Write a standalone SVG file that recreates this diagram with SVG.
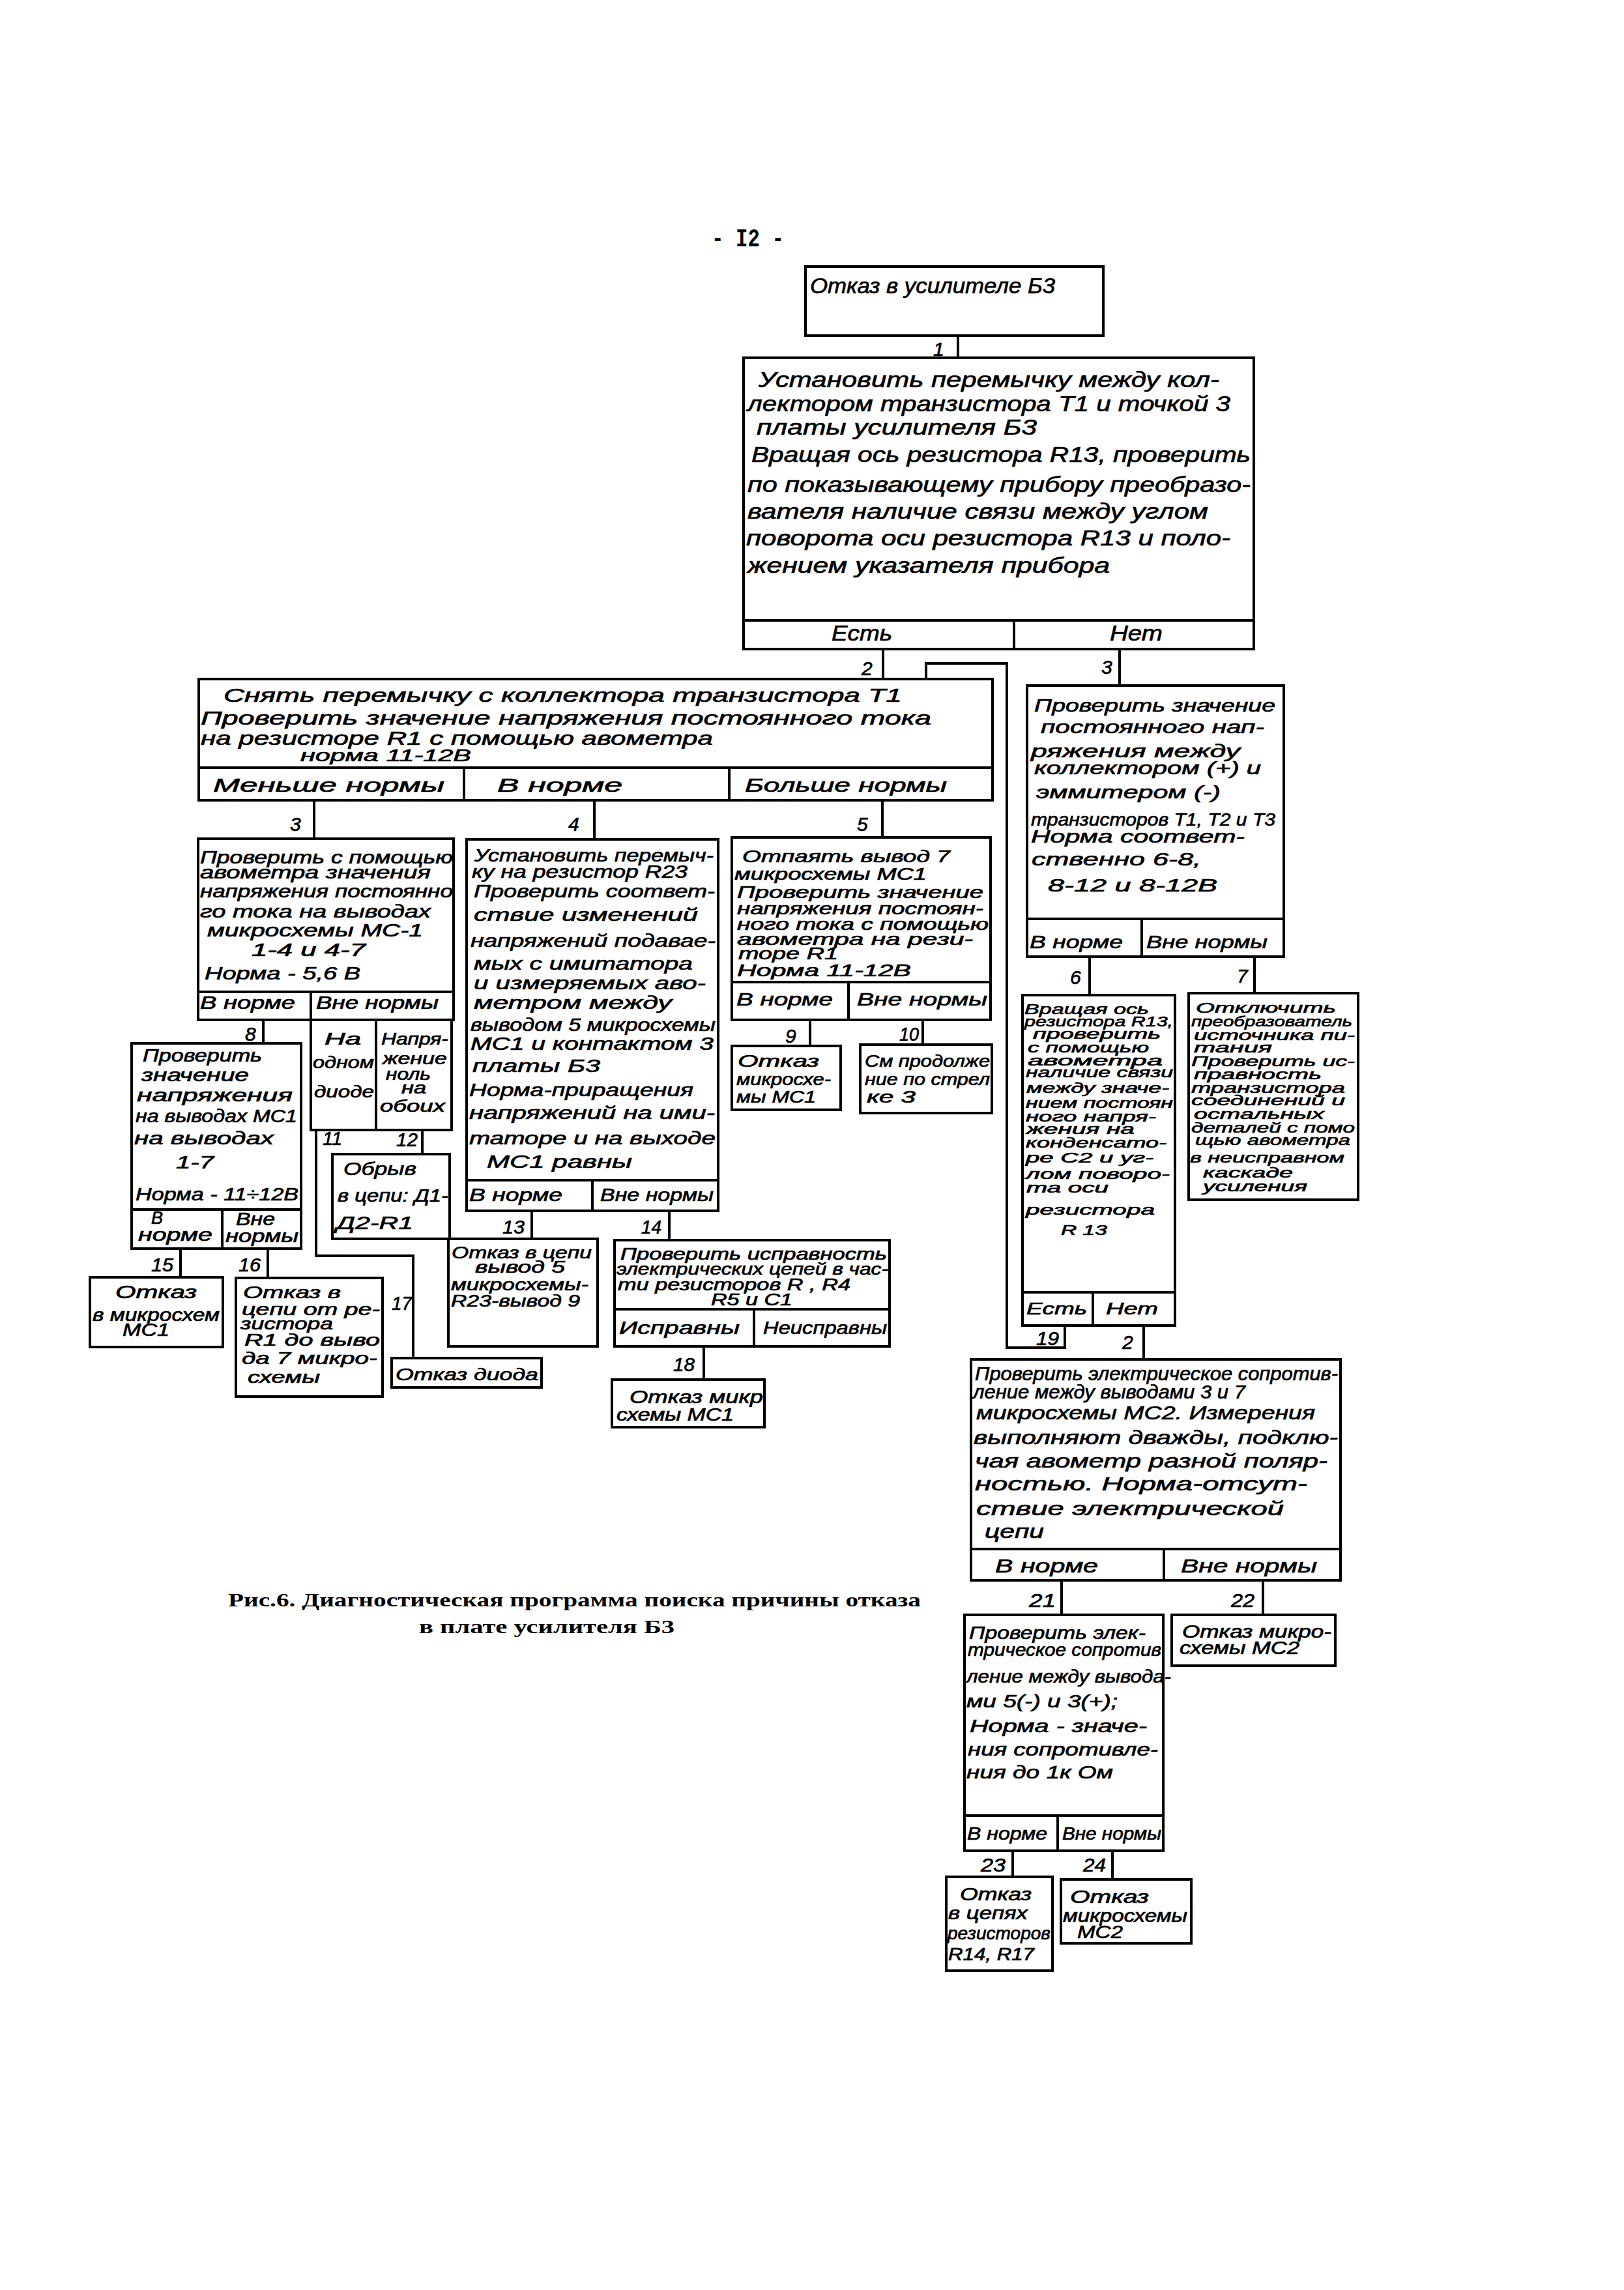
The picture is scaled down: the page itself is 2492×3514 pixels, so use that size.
<svg xmlns="http://www.w3.org/2000/svg" width="2492" height="3514" viewBox="0 0 2492 3514">
<style>
.bx{fill:none;stroke:#000;stroke-width:4;stroke-linejoin:miter}
.ln{fill:none;stroke:#000;stroke-width:4}
.t{font-family:"Liberation Sans","DejaVu Sans",sans-serif;font-style:italic;fill:#000;stroke:#000;stroke-width:0.7}
.lb{font-family:"Liberation Sans","DejaVu Sans",sans-serif;font-style:italic;font-size:30px;fill:#000;stroke:#000;stroke-width:0.7}
.f22{font-size:22px}.f24{font-size:24px}.f25{font-size:25px}.f27{font-size:27px}.f28{font-size:28px}.f30{font-size:30px}.f34{font-size:34px}
.cap{font-family:"Liberation Serif","DejaVu Serif",serif;font-weight:bold;font-size:30px;fill:#000}
.pg{font-family:"Liberation Mono","DejaVu Sans Mono",monospace;font-weight:bold;font-size:38px;fill:#000}
</style>
<rect width="2492" height="3514" fill="#fff"/>
<text class="pg" x="1092" y="378" textLength="111" lengthAdjust="spacingAndGlyphs">- I2 -</text>

<g id="connectors">
<path class="ln" d="M1470 515V549"/>
<path class="ln" d="M1355 996V1042"/>
<path class="ln" d="M1718 996V1052"/>
<path class="ln" d="M1421 1042V1018H1545V2068H1634V2034"/>
<path class="ln" d="M482 1228V1287"/>
<path class="ln" d="M912 1228V1288"/>
<path class="ln" d="M1354 1228V1285"/>
<path class="ln" d="M1672 1468V1527"/>
<path class="ln" d="M1925 1468V1524"/>
<path class="ln" d="M404 1565V1601"/>
<path class="ln" d="M1243 1565V1605"/>
<path class="ln" d="M1416 1565V1603"/>
<path class="ln" d="M485 1734V1927H634V2084"/>
<path class="ln" d="M648 1734V1771"/>
<path class="ln" d="M816 1858V1901"/>
<path class="ln" d="M1027 1858V1903"/>
<path class="ln" d="M277 1916V1960"/>
<path class="ln" d="M411 1916V1961"/>
<path class="ln" d="M1080 2066V2117"/>
<path class="ln" d="M1755 2034V2086"/>
<path class="ln" d="M1629 2425V2478"/>
<path class="ln" d="M1938 2425V2478"/>
<path class="ln" d="M1554 2840V2880"/>
<path class="ln" d="M1707 2840V2884"/>
<text class="lb" x="1432" y="546">1</text>
<text class="lb" x="1322" y="1036">2</text>
<text class="lb" x="1690" y="1034">3</text>
<text class="lb" x="445" y="1275">3</text>
<text class="lb" x="872" y="1275">4</text>
<text class="lb" x="1315" y="1275">5</text>
<text class="lb" x="1642" y="1510">6</text>
<text class="lb" x="1898" y="1508">7</text>
<text class="lb" x="376" y="1597">8</text>
<text class="lb" x="1205" y="1600">9</text>
<text class="lb" x="1380" y="1597" textLength="30" lengthAdjust="spacingAndGlyphs">10</text>
<text class="lb" x="495" y="1757" textLength="30" lengthAdjust="spacingAndGlyphs">11</text>
<text class="lb" x="608" y="1759" textLength="33" lengthAdjust="spacingAndGlyphs">12</text>
<text class="lb" x="771" y="1893" textLength="34" lengthAdjust="spacingAndGlyphs">13</text>
<text class="lb" x="984" y="1893" textLength="31" lengthAdjust="spacingAndGlyphs">14</text>
<text class="lb" x="232" y="1951" textLength="34" lengthAdjust="spacingAndGlyphs">15</text>
<text class="lb" x="366" y="1951" textLength="34" lengthAdjust="spacingAndGlyphs">16</text>
<text class="lb" x="601" y="2010" textLength="31" lengthAdjust="spacingAndGlyphs">17</text>
<text class="lb" x="1033" y="2104" textLength="33" lengthAdjust="spacingAndGlyphs">18</text>
<text class="lb" x="1590" y="2064" textLength="35" lengthAdjust="spacingAndGlyphs">19</text>
<text class="lb" x="1722" y="2070">2</text>
<text class="lb" x="1579" y="2466" textLength="41" lengthAdjust="spacingAndGlyphs">21</text>
<text class="lb" x="1889" y="2466" textLength="36" lengthAdjust="spacingAndGlyphs">22</text>
<text class="lb" x="1505" y="2872" textLength="38" lengthAdjust="spacingAndGlyphs">23</text>
<text class="lb" x="1662" y="2872" textLength="35" lengthAdjust="spacingAndGlyphs">24</text>
</g>

<g id="nodeA">
<rect class="bx" x="1236" y="409" width="457" height="106"/>
<text class="t f34" x="1243" y="450" textLength="376" lengthAdjust="spacingAndGlyphs">Отказ в усилителе Б3</text>
</g>

<g id="node1">
<rect class="bx" x="1141" y="549" width="783" height="447"/>
<path class="ln" d="M1141 952H1924M1556 952V996"/>
<text class="t f34" x="1164" y="594" textLength="707" lengthAdjust="spacingAndGlyphs">Установить перемычку между кол-</text>
<text class="t f34" x="1147" y="631" textLength="741" lengthAdjust="spacingAndGlyphs">лектором транзистора T1 и точкой 3</text>
<text class="t f34" x="1161" y="667" textLength="430" lengthAdjust="spacingAndGlyphs">платы усилителя Б3</text>
<text class="t f34" x="1153" y="709" textLength="766" lengthAdjust="spacingAndGlyphs">Вращая ось резистора R13, проверить</text>
<text class="t f34" x="1147" y="755" textLength="772" lengthAdjust="spacingAndGlyphs">по показывающему прибору преобразо-</text>
<text class="t f34" x="1147" y="796" textLength="707" lengthAdjust="spacingAndGlyphs">вателя наличие связи между углом</text>
<text class="t f34" x="1145" y="837" textLength="743" lengthAdjust="spacingAndGlyphs">поворота оси резистора R13 и поло-</text>
<text class="t f34" x="1147" y="879" textLength="556" lengthAdjust="spacingAndGlyphs">жением указателя прибора</text>
<text class="t f34" x="1276" y="983" textLength="93" lengthAdjust="spacingAndGlyphs">Есть</text>
<text class="t f34" x="1703" y="983" textLength="81" lengthAdjust="spacingAndGlyphs">Нет</text>
</g>

<g id="node2">
<rect class="bx" x="305" y="1042" width="1218" height="186"/>
<path class="ln" d="M305 1178H1523M712 1178V1228M1119 1178V1228"/>
<text class="t f30" x="343" y="1077" textLength="1041" lengthAdjust="spacingAndGlyphs">Снять перемычку с коллектора транзистора T1</text>
<text class="t f30" x="308" y="1112" textLength="1121" lengthAdjust="spacingAndGlyphs">Проверить значение напряжения постоянного тока</text>
<text class="t f30" x="308" y="1143" textLength="786" lengthAdjust="spacingAndGlyphs">на резисторе R1 с помощью авометра</text>
<text class="t f25" x="461" y="1168" textLength="262" lengthAdjust="spacingAndGlyphs">норма 11-12В</text>
<text class="t f30" x="327" y="1215" textLength="355" lengthAdjust="spacingAndGlyphs">Меньше нормы</text>
<text class="t f30" x="763" y="1215" textLength="192" lengthAdjust="spacingAndGlyphs">В норме</text>
<text class="t f30" x="1143" y="1215" textLength="310" lengthAdjust="spacingAndGlyphs">Больше нормы</text>
</g>

<g id="node3">
<rect class="bx" x="1576" y="1052" width="394" height="416"/>
<path class="ln" d="M1576 1410H1970M1752 1410V1468"/>
<text class="t f28" x="1587" y="1092" textLength="370" lengthAdjust="spacingAndGlyphs">Проверить значение</text>
<text class="t f28" x="1597" y="1125" textLength="343" lengthAdjust="spacingAndGlyphs">постоянного нап-</text>
<text class="t f28" x="1582" y="1162" textLength="321" lengthAdjust="spacingAndGlyphs">ряжения между</text>
<text class="t f28" x="1587" y="1188" textLength="348" lengthAdjust="spacingAndGlyphs">коллектором (+) и</text>
<text class="t f28" x="1590" y="1225" textLength="283" lengthAdjust="spacingAndGlyphs">эммитером (-)</text>
<text class="t f28" x="1582" y="1267" textLength="375" lengthAdjust="spacingAndGlyphs">транзисторов T1, T2 и T3</text>
<text class="t f28" x="1582" y="1293" textLength="328" lengthAdjust="spacingAndGlyphs">Норма соответ-</text>
<text class="t f28" x="1583" y="1328" textLength="260" lengthAdjust="spacingAndGlyphs">ственно 6-8,</text>
<text class="t f28" x="1608" y="1368" textLength="260" lengthAdjust="spacingAndGlyphs">8-12 и 8-12В</text>
<text class="t f28" x="1580" y="1455" textLength="143" lengthAdjust="spacingAndGlyphs">В норме</text>
<text class="t f28" x="1759" y="1455" textLength="186" lengthAdjust="spacingAndGlyphs">Вне нормы</text>
</g>

<g id="node3a">
<rect class="bx" x="304" y="1287" width="392" height="278"/>
<path class="ln" d="M304 1522H696M477 1522V1565"/>
<text class="t f27" x="307" y="1325" textLength="388" lengthAdjust="spacingAndGlyphs">Проверить с помощью</text>
<text class="t f27" x="307" y="1348" textLength="354" lengthAdjust="spacingAndGlyphs">авометра значения</text>
<text class="t f27" x="307" y="1377" textLength="388" lengthAdjust="spacingAndGlyphs">напряжения постоянно</text>
<text class="t f27" x="307" y="1408" textLength="354" lengthAdjust="spacingAndGlyphs">го тока на выводах</text>
<text class="t f27" x="318" y="1437" textLength="331" lengthAdjust="spacingAndGlyphs">микросхемы MC-1</text>
<text class="t f27" x="386" y="1467" textLength="175" lengthAdjust="spacingAndGlyphs">1-4 и 4-7</text>
<text class="t f27" x="314" y="1503" textLength="239" lengthAdjust="spacingAndGlyphs">Норма - 5,6 В</text>
<text class="t f27" x="307" y="1548" textLength="146" lengthAdjust="spacingAndGlyphs">В норме</text>
<text class="t f27" x="485" y="1548" textLength="188" lengthAdjust="spacingAndGlyphs">Вне нормы</text>
</g>

<g id="node4">
<rect class="bx" x="716" y="1288" width="386" height="570"/>
<path class="ln" d="M716 1811H1102M909 1811V1858"/>
<text class="t f28" x="728" y="1322" textLength="367" lengthAdjust="spacingAndGlyphs">Установить перемыч-</text>
<text class="t f28" x="724" y="1347" textLength="331" lengthAdjust="spacingAndGlyphs">ку на резистор R23</text>
<text class="t f28" x="727" y="1377" textLength="370" lengthAdjust="spacingAndGlyphs">Проверить соответ-</text>
<text class="t f28" x="727" y="1413" textLength="344" lengthAdjust="spacingAndGlyphs">ствие изменений</text>
<text class="t f28" x="722" y="1453" textLength="376" lengthAdjust="spacingAndGlyphs">напряжений подавае-</text>
<text class="t f28" x="727" y="1488" textLength="336" lengthAdjust="spacingAndGlyphs">мых с имитатора</text>
<text class="t f28" x="727" y="1518" textLength="356" lengthAdjust="spacingAndGlyphs">и измеряемых аво-</text>
<text class="t f28" x="727" y="1548" textLength="304" lengthAdjust="spacingAndGlyphs">метром между</text>
<text class="t f28" x="722" y="1582" textLength="376" lengthAdjust="spacingAndGlyphs">выводом 5 микросхемы</text>
<text class="t f28" x="722" y="1611" textLength="373" lengthAdjust="spacingAndGlyphs">MC1 и контактом 3</text>
<text class="t f28" x="725" y="1645" textLength="196" lengthAdjust="spacingAndGlyphs">платы Б3</text>
<text class="t f28" x="720" y="1682" textLength="344" lengthAdjust="spacingAndGlyphs">Норма-приращения</text>
<text class="t f28" x="720" y="1717" textLength="377" lengthAdjust="spacingAndGlyphs">напряжений на ими-</text>
<text class="t f28" x="720" y="1756" textLength="378" lengthAdjust="spacingAndGlyphs">таторе и на выходе</text>
<text class="t f28" x="747" y="1792" textLength="223" lengthAdjust="spacingAndGlyphs">MC1 равны</text>
<text class="t f28" x="720" y="1843" textLength="143" lengthAdjust="spacingAndGlyphs">В норме</text>
<text class="t f28" x="921" y="1843" textLength="174" lengthAdjust="spacingAndGlyphs">Вне нормы</text>
</g>

<g id="node5">
<rect class="bx" x="1123" y="1285" width="397" height="280"/>
<path class="ln" d="M1123 1507H1520M1302 1507V1565"/>
<text class="t f25" x="1139" y="1323" textLength="319" lengthAdjust="spacingAndGlyphs">Отпаять вывод 7</text>
<text class="t f25" x="1127" y="1350" textLength="295" lengthAdjust="spacingAndGlyphs">микросхемы MC1</text>
<text class="t f25" x="1131" y="1378" textLength="378" lengthAdjust="spacingAndGlyphs">Проверить значение</text>
<text class="t f25" x="1131" y="1403" textLength="378" lengthAdjust="spacingAndGlyphs">напряжения постоян-</text>
<text class="t f25" x="1131" y="1427" textLength="386" lengthAdjust="spacingAndGlyphs">ного тока с помощью</text>
<text class="t f25" x="1131" y="1450" textLength="362" lengthAdjust="spacingAndGlyphs">авометра на рези-</text>
<text class="t f25" x="1133" y="1472" textLength="153" lengthAdjust="spacingAndGlyphs">торе R1</text>
<text class="t f25" x="1131" y="1498" textLength="267" lengthAdjust="spacingAndGlyphs">Норма 11-12В</text>
<text class="t f28" x="1130" y="1543" textLength="148" lengthAdjust="spacingAndGlyphs">В норме</text>
<text class="t f28" x="1315" y="1543" textLength="200" lengthAdjust="spacingAndGlyphs">Вне нормы</text>
</g>

<g id="node6">
<rect class="bx" x="1569" y="1527" width="234" height="507"/>
<path class="ln" d="M1569 1983H1803M1677 1983V2034"/>
<text class="t f22" x="1572" y="1556" textLength="191" lengthAdjust="spacingAndGlyphs">Вращая ось</text>
<text class="t f22" x="1572" y="1575" textLength="228" lengthAdjust="spacingAndGlyphs">резистора R13,</text>
<text class="t f22" x="1585" y="1594" textLength="196" lengthAdjust="spacingAndGlyphs">проверить</text>
<text class="t f22" x="1577" y="1615" textLength="186" lengthAdjust="spacingAndGlyphs">с помощью</text>
<text class="t f22" x="1577" y="1635" textLength="207" lengthAdjust="spacingAndGlyphs">авометра</text>
<text class="t f22" x="1574" y="1653" textLength="226" lengthAdjust="spacingAndGlyphs">наличие связи</text>
<text class="t f22" x="1575" y="1677" textLength="219" lengthAdjust="spacingAndGlyphs">между значе-</text>
<text class="t f22" x="1574" y="1700" textLength="226" lengthAdjust="spacingAndGlyphs">нием постоян</text>
<text class="t f22" x="1574" y="1721" textLength="200" lengthAdjust="spacingAndGlyphs">ного напря-</text>
<text class="t f22" x="1575" y="1740" textLength="166" lengthAdjust="spacingAndGlyphs">жения на</text>
<text class="t f22" x="1574" y="1761" textLength="216" lengthAdjust="spacingAndGlyphs">конденсато-</text>
<text class="t f22" x="1574" y="1784" textLength="196" lengthAdjust="spacingAndGlyphs">ре С2 и уг-</text>
<text class="t f22" x="1574" y="1809" textLength="221" lengthAdjust="spacingAndGlyphs">лом поворо-</text>
<text class="t f22" x="1575" y="1830" textLength="126" lengthAdjust="spacingAndGlyphs">та оси</text>
<text class="t f22" x="1574" y="1864" textLength="198" lengthAdjust="spacingAndGlyphs">резистора</text>
<text class="t f22" x="1628" y="1895" textLength="71" lengthAdjust="spacingAndGlyphs">R 13</text>
<text class="t f25" x="1575" y="2017" textLength="93" lengthAdjust="spacingAndGlyphs">Есть</text>
<text class="t f25" x="1697" y="2017" textLength="80" lengthAdjust="spacingAndGlyphs">Нет</text>
</g>

<g id="node7">
<rect class="bx" x="1824" y="1524" width="260" height="317"/>
<text class="t f22" x="1835" y="1554" textLength="215" lengthAdjust="spacingAndGlyphs">Отключить</text>
<text class="t f22" x="1828" y="1575" textLength="247" lengthAdjust="spacingAndGlyphs">преобразователь</text>
<text class="t f22" x="1832" y="1596" textLength="247" lengthAdjust="spacingAndGlyphs">источника пи-</text>
<text class="t f22" x="1832" y="1615" textLength="120" lengthAdjust="spacingAndGlyphs">тания</text>
<text class="t f22" x="1828" y="1636" textLength="251" lengthAdjust="spacingAndGlyphs">Проверить ис-</text>
<text class="t f22" x="1832" y="1656" textLength="196" lengthAdjust="spacingAndGlyphs">правность</text>
<text class="t f22" x="1828" y="1677" textLength="236" lengthAdjust="spacingAndGlyphs">транзистора</text>
<text class="t f22" x="1828" y="1696" textLength="236" lengthAdjust="spacingAndGlyphs">соединений и</text>
<text class="t f22" x="1832" y="1717" textLength="200" lengthAdjust="spacingAndGlyphs">остальных</text>
<text class="t f22" x="1828" y="1738" textLength="251" lengthAdjust="spacingAndGlyphs">деталей с помо</text>
<text class="t f22" x="1834" y="1757" textLength="238" lengthAdjust="spacingAndGlyphs">щью авометра</text>
<text class="t f22" x="1826" y="1784" textLength="237" lengthAdjust="spacingAndGlyphs">в неисправном</text>
<text class="t f22" x="1846" y="1807" textLength="138" lengthAdjust="spacingAndGlyphs">каскаде</text>
<text class="t f22" x="1846" y="1828" textLength="160" lengthAdjust="spacingAndGlyphs">усиления</text>
</g>

<g id="node8">
<rect class="bx" x="202" y="1601" width="260" height="315"/>
<path class="ln" d="M202 1856H462M341 1856V1916"/>
<text class="t f27" x="219" y="1629" textLength="183" lengthAdjust="spacingAndGlyphs">Проверить</text>
<text class="t f27" x="217" y="1659" textLength="165" lengthAdjust="spacingAndGlyphs">значение</text>
<text class="t f27" x="210" y="1690" textLength="239" lengthAdjust="spacingAndGlyphs">напряжения</text>
<text class="t f27" x="208" y="1722" textLength="248" lengthAdjust="spacingAndGlyphs">на выводах MC1</text>
<text class="t f27" x="206" y="1756" textLength="214" lengthAdjust="spacingAndGlyphs">на выводах</text>
<text class="t f27" x="270" y="1793" textLength="58" lengthAdjust="spacingAndGlyphs">1-7</text>
<text class="t f27" x="208" y="1842" textLength="250" lengthAdjust="spacingAndGlyphs">Норма - 11÷12В</text>
<text class="t f27" x="232" y="1878">В</text>
<text class="t f27" x="212" y="1904" textLength="114" lengthAdjust="spacingAndGlyphs">норме</text>
<text class="t f27" x="362" y="1880" textLength="60" lengthAdjust="spacingAndGlyphs">Вне</text>
<text class="t f27" x="346" y="1906" textLength="112" lengthAdjust="spacingAndGlyphs">нормы</text>
</g>

<g id="node8b">
<rect class="bx" x="477" y="1565" width="216" height="169"/>
<path class="ln" d="M577 1565V1734"/>
<text class="t f25" x="498" y="1603" textLength="56" lengthAdjust="spacingAndGlyphs">На</text>
<text class="t f25" x="480" y="1639" textLength="94" lengthAdjust="spacingAndGlyphs">одном</text>
<text class="t f25" x="482" y="1684" textLength="92" lengthAdjust="spacingAndGlyphs">диоде</text>
<text class="t f25" x="585" y="1603" textLength="103" lengthAdjust="spacingAndGlyphs">Напря-</text>
<text class="t f25" x="587" y="1633" textLength="99" lengthAdjust="spacingAndGlyphs">жение</text>
<text class="t f25" x="592" y="1657" textLength="69" lengthAdjust="spacingAndGlyphs">ноль</text>
<text class="t f25" x="616" y="1678" textLength="38" lengthAdjust="spacingAndGlyphs">на</text>
<text class="t f25" x="583" y="1706" textLength="100" lengthAdjust="spacingAndGlyphs">обоих</text>
</g>

<g id="node9">
<rect class="bx" x="1123" y="1605" width="167" height="98"/>
<text class="t f25" x="1132" y="1637" textLength="125" lengthAdjust="spacingAndGlyphs">Отказ</text>
<text class="t f25" x="1130" y="1665" textLength="145" lengthAdjust="spacingAndGlyphs">микросхе-</text>
<text class="t f25" x="1130" y="1692" textLength="122" lengthAdjust="spacingAndGlyphs">мы MC1</text>
</g>

<g id="node10">
<rect class="bx" x="1320" y="1603" width="202" height="105"/>
<text class="t f25" x="1327" y="1637" textLength="192" lengthAdjust="spacingAndGlyphs">См продолже</text>
<text class="t f25" x="1327" y="1665" textLength="192" lengthAdjust="spacingAndGlyphs">ние по стрел</text>
<text class="t f25" x="1330" y="1692" textLength="75" lengthAdjust="spacingAndGlyphs">ке 3</text>
</g>

<g id="node12">
<rect class="bx" x="510" y="1771" width="180" height="130"/>
<text class="t f28" x="527" y="1803" textLength="112" lengthAdjust="spacingAndGlyphs">Обрыв</text>
<text class="t f28" x="518" y="1844" textLength="170" lengthAdjust="spacingAndGlyphs">в цепи: Д1-</text>
<text class="t f28" x="516" y="1886" textLength="118" lengthAdjust="spacingAndGlyphs">Д2-R1</text>
</g>

<g id="node13">
<rect class="bx" x="688" y="1901" width="229" height="165"/>
<text class="t f25" x="693" y="1931" textLength="215" lengthAdjust="spacingAndGlyphs">Отказ в цепи</text>
<text class="t f25" x="729" y="1953" textLength="138" lengthAdjust="spacingAndGlyphs">вывод 5</text>
<text class="t f25" x="692" y="1980" textLength="211" lengthAdjust="spacingAndGlyphs">микросхемы-</text>
<text class="t f25" x="692" y="2005" textLength="198" lengthAdjust="spacingAndGlyphs">R23-вывод 9</text>
</g>

<g id="node14">
<rect class="bx" x="943" y="1903" width="422" height="163"/>
<path class="ln" d="M943 2009H1365M1157 2009V2066"/>
<text class="t f25" x="952" y="1933" textLength="409" lengthAdjust="spacingAndGlyphs">Проверить исправность</text>
<text class="t f25" x="946" y="1956" textLength="417" lengthAdjust="spacingAndGlyphs">электрических цепей в час-</text>
<text class="t f25" x="948" y="1980" textLength="357" lengthAdjust="spacingAndGlyphs">ти резисторов R , R4</text>
<text class="t f25" x="1091" y="2003" textLength="125" lengthAdjust="spacingAndGlyphs">R5 и C1</text>
<text class="t f28" x="950" y="2047" textLength="185" lengthAdjust="spacingAndGlyphs">Исправны</text>
<text class="t f28" x="1171" y="2047" textLength="190" lengthAdjust="spacingAndGlyphs">Неисправны</text>
</g>

<g id="node15">
<rect class="bx" x="138" y="1960" width="204" height="107"/>
<text class="t f27" x="177" y="1992" textLength="125" lengthAdjust="spacingAndGlyphs">Отказ</text>
<text class="t f27" x="142" y="2027" textLength="195" lengthAdjust="spacingAndGlyphs">в микросхем</text>
<text class="t f27" x="188" y="2050" textLength="72" lengthAdjust="spacingAndGlyphs">MC1</text>
</g>

<g id="node16">
<rect class="bx" x="362" y="1961" width="225" height="182"/>
<text class="t f25" x="373" y="1992" textLength="150" lengthAdjust="spacingAndGlyphs">Отказ в</text>
<text class="t f25" x="371" y="2018" textLength="212" lengthAdjust="spacingAndGlyphs">цепи от ре-</text>
<text class="t f25" x="369" y="2040" textLength="142" lengthAdjust="spacingAndGlyphs">зистора</text>
<text class="t f25" x="375" y="2065" textLength="208" lengthAdjust="spacingAndGlyphs">R1 до выво</text>
<text class="t f25" x="371" y="2093" textLength="208" lengthAdjust="spacingAndGlyphs">да 7 микро-</text>
<text class="t f25" x="380" y="2122" textLength="111" lengthAdjust="spacingAndGlyphs">схемы</text>
</g>

<g id="node17">
<rect class="bx" x="601" y="2084" width="230" height="45"/>
<text class="t f25" x="607" y="2118" textLength="219" lengthAdjust="spacingAndGlyphs">Отказ диода</text>
</g>

<g id="node18">
<rect class="bx" x="939" y="2117" width="234" height="73"/>
<text class="t f27" x="966" y="2153" textLength="205" lengthAdjust="spacingAndGlyphs">Отказ микр</text>
<text class="t f27" x="946" y="2180" textLength="180" lengthAdjust="spacingAndGlyphs">схемы MC1</text>
</g>

<g id="node20">
<rect class="bx" x="1490" y="2086" width="567" height="339"/>
<path class="ln" d="M1490 2377H2057M1786 2377V2425"/>
<text class="t f30" x="1496" y="2118" textLength="557" lengthAdjust="spacingAndGlyphs">Проверить электрическое сопротив-</text>
<text class="t f30" x="1493" y="2146" textLength="418" lengthAdjust="spacingAndGlyphs">ление между выводами 3 и 7</text>
<text class="t f30" x="1498" y="2178" textLength="520" lengthAdjust="spacingAndGlyphs">микросхемы MC2. Измерения</text>
<text class="t f30" x="1494" y="2216" textLength="559" lengthAdjust="spacingAndGlyphs">выполняют дважды, подклю-</text>
<text class="t f30" x="1496" y="2252" textLength="541" lengthAdjust="spacingAndGlyphs">чая авометр разной поляр-</text>
<text class="t f30" x="1496" y="2287" textLength="510" lengthAdjust="spacingAndGlyphs">ностью. Норма-отсут-</text>
<text class="t f30" x="1498" y="2325" textLength="472" lengthAdjust="spacingAndGlyphs">ствие электрической</text>
<text class="t f30" x="1511" y="2360" textLength="91" lengthAdjust="spacingAndGlyphs">цепи</text>
<text class="t f30" x="1527" y="2413" textLength="158" lengthAdjust="spacingAndGlyphs">В норме</text>
<text class="t f30" x="1812" y="2413" textLength="209" lengthAdjust="spacingAndGlyphs">Вне нормы</text>
</g>

<g id="node21">
<rect class="bx" x="1480" y="2478" width="305" height="362"/>
<path class="ln" d="M1480 2786H1785M1623 2786V2840"/>
<text class="t f28" x="1487" y="2515" textLength="271" lengthAdjust="spacingAndGlyphs">Проверить элек-</text>
<text class="t f28" x="1485" y="2541" textLength="297" lengthAdjust="spacingAndGlyphs">трическое сопротив</text>
<text class="t f28" x="1483" y="2582" textLength="314" lengthAdjust="spacingAndGlyphs">ление между вывода-</text>
<text class="t f28" x="1483" y="2620" textLength="232" lengthAdjust="spacingAndGlyphs">ми 5(-) и 3(+);</text>
<text class="t f28" x="1488" y="2658" textLength="272" lengthAdjust="spacingAndGlyphs">Норма - значе-</text>
<text class="t f28" x="1485" y="2694" textLength="292" lengthAdjust="spacingAndGlyphs">ния сопротивле-</text>
<text class="t f28" x="1483" y="2729" textLength="225" lengthAdjust="spacingAndGlyphs">ния до 1к Ом</text>
<text class="t f28" x="1484" y="2823" textLength="123" lengthAdjust="spacingAndGlyphs">В норме</text>
<text class="t f28" x="1630" y="2823" textLength="152" lengthAdjust="spacingAndGlyphs">Вне нормы</text>
</g>

<g id="node22">
<rect class="bx" x="1798" y="2478" width="251" height="78"/>
<text class="t f27" x="1814" y="2513" textLength="229" lengthAdjust="spacingAndGlyphs">Отказ микро-</text>
<text class="t f27" x="1810" y="2538" textLength="184" lengthAdjust="spacingAndGlyphs">схемы MC2</text>
</g>

<g id="node23">
<rect class="bx" x="1452" y="2880" width="163" height="144"/>
<text class="t f27" x="1473" y="2916" textLength="110" lengthAdjust="spacingAndGlyphs">Отказ</text>
<text class="t f27" x="1455" y="2945" textLength="122" lengthAdjust="spacingAndGlyphs">в цепях</text>
<text class="t f27" x="1454" y="2976" textLength="158" lengthAdjust="spacingAndGlyphs">резисторов</text>
<text class="t f27" x="1455" y="3008" textLength="132" lengthAdjust="spacingAndGlyphs">R14, R17</text>
</g>

<g id="node24">
<rect class="bx" x="1628" y="2884" width="200" height="98"/>
<text class="t f27" x="1642" y="2920" textLength="121" lengthAdjust="spacingAndGlyphs">Отказ</text>
<text class="t f27" x="1631" y="2949" textLength="191" lengthAdjust="spacingAndGlyphs">микросхемы</text>
<text class="t f27" x="1653" y="2974" textLength="70" lengthAdjust="spacingAndGlyphs">MC2</text>
</g>

<g id="caption">
<text class="cap" x="350" y="2465" textLength="1063" lengthAdjust="spacingAndGlyphs">Рис.6. Диагностическая программа поиска причины отказа</text>
<text class="cap" x="643" y="2506" textLength="392" lengthAdjust="spacingAndGlyphs">в плате усилителя Б3</text>
</g>
</svg>
